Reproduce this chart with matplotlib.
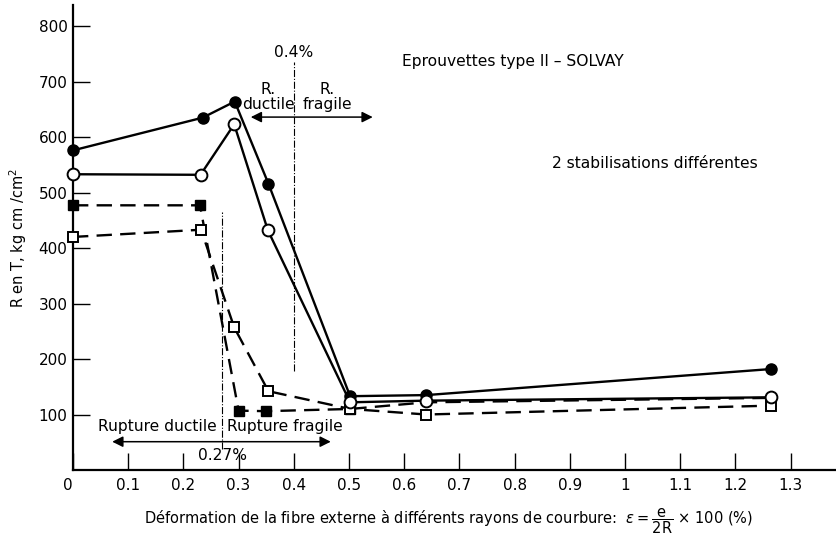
import matplotlib
matplotlib.use("Agg")
import matplotlib.pyplot as plt

plt.rcParams['font.family'] = ['DejaVu Sans']
plt.rcParams['mathtext.fontset'] = 'dejavusans'

# Data
x_fc = [0.0, 0.235, 0.293, 0.354, 0.502, 0.64, 1.265]
y_fc = [576, 635, 664, 516, 133, 135, 182]

x_oc = [0.0, 0.231, 0.292, 0.353, 0.502, 0.64, 1.265]
y_oc = [533, 532, 623, 432, 122, 125, 131]

x_fs = [0.0, 0.23, 0.3, 0.349, 0.502, 0.64, 1.265]
y_fs = [477, 477, 107, 106, 110, 122, 130]

x_os = [0.0, 0.232, 0.292, 0.354, 0.502, 0.64, 1.265]
y_os = [420, 433, 257, 142, 110, 100, 116]

xticks = [0, 0.1, 0.2, 0.3, 0.4, 0.5, 0.6, 0.7, 0.8, 0.9, 1.0, 1.1, 1.2, 1.3]
xticklabels = ['0', '0.1', '0.2', '0.3', '0.4', '0.5', '0.6', '0.7', '0.8', '0.9', '1', '1.1', '1.2', '1.3']
yticks = [100, 200, 300, 400, 500, 600, 700, 800]

fig = plt.figure(figsize=(8.37, 5.37), dpi=100)
ax = fig.add_axes([73/837, 1-470/537, 1-73/837, (470-5)/537])
ax.set_xlim(0, 1.384)
ax.set_ylim(0, 838)

lw = 1.7
dash = (0, (6.5, 3.5))
ax.plot(x_fs, y_fs, color='black', lw=lw, linestyle=dash, marker='s', markersize=7.5,
        markerfacecolor='black', markeredgecolor='black', markevery=[0, 1, 2, 3, 4], clip_on=False, zorder=3)
ax.plot(x_os, y_os, color='black', lw=lw, linestyle=dash, marker='s', markersize=7.5,
        markerfacecolor='white', markeredgecolor='black', markeredgewidth=1.4, clip_on=False, zorder=4)
ax.plot(x_fc, y_fc, color='black', lw=lw, linestyle='-', marker='o', markersize=8,
        markerfacecolor='black', markeredgecolor='black', clip_on=False, zorder=5)
ax.plot(x_oc, y_oc, color='black', lw=lw, linestyle='-', marker='o', markersize=8.5,
        markerfacecolor='white', markeredgecolor='black', markeredgewidth=1.4, clip_on=False, zorder=6)

# Vertical reference lines
ax.plot([0.4, 0.4], [178, 735], color='black', lw=0.8, linestyle='-.', zorder=2)
ax.plot([0.27, 0.27], [38, 465], color='black', lw=0.8, linestyle='-.', zorder=2)

# Arrows
ax.annotate('', xy=(0.317, 636), xytext=(0.548, 636),
            arrowprops=dict(arrowstyle='<|-|>', color='black', lw=1.1, mutation_scale=16))
ax.annotate('', xy=(0.066, 51), xytext=(0.472, 51),
            arrowprops=dict(arrowstyle='<|-|>', color='black', lw=1.1, mutation_scale=16))

fs = 11.2
ax.text(0.4, 752, '0.4%', ha='center', va='center', fontsize=fs)
ax.text(0.354, 672, 'R.\nductile', ha='center', va='center', fontsize=fs, linespacing=1.0)
ax.text(0.461, 672, 'R.\nfragile', ha='center', va='center', fontsize=fs, linespacing=1.0)
ax.text(0.152, 79, 'Rupture ductile', ha='center', va='center', fontsize=fs)
ax.text(0.383, 79, 'Rupture fragile', ha='center', va='center', fontsize=fs)
ax.text(0.27, 26, '0.27%', ha='center', va='center', fontsize=fs)
ax.text(0.797, 736, 'Eprouvettes type II \u2013 SOLVAY', ha='center', va='center', fontsize=fs)
ax.text(1.054, 552, '2 stabilisations différentes', ha='center', va='center', fontsize=fs)

ax.set_xticks(xticks)
ax.set_xticklabels(xticklabels, fontsize=11)
ax.set_yticks(yticks)
ax.set_yticklabels([str(v) for v in yticks], fontsize=11)
ax.tick_params(axis='both', direction='in', length=12, width=1.0, color='black')
ax.tick_params(axis='x', pad=6)
ax.tick_params(axis='y', pad=4)
for lab in ax.get_xticklabels():
    if lab.get_text() == '0':
        lab.set_horizontalalignment('right')

ax.spines['top'].set_visible(False)
ax.spines['right'].set_visible(False)
ax.spines['left'].set_linewidth(1.6)
ax.spines['bottom'].set_linewidth(1.6)

ax.set_ylabel('R en T, kg cm /cm$^{2}$', fontsize=10.5, labelpad=7)
fig.text(449/837, 1-521/537,
         'Déformation de la fibre externe à différents rayons de courbure:  $\\epsilon = \\dfrac{\\mathrm{e}}{\\mathrm{2R}}$ \u00d7 100 (%)',
         ha='center', va='center', fontsize=10.5)

fig.savefig('out.png', dpi=100)
